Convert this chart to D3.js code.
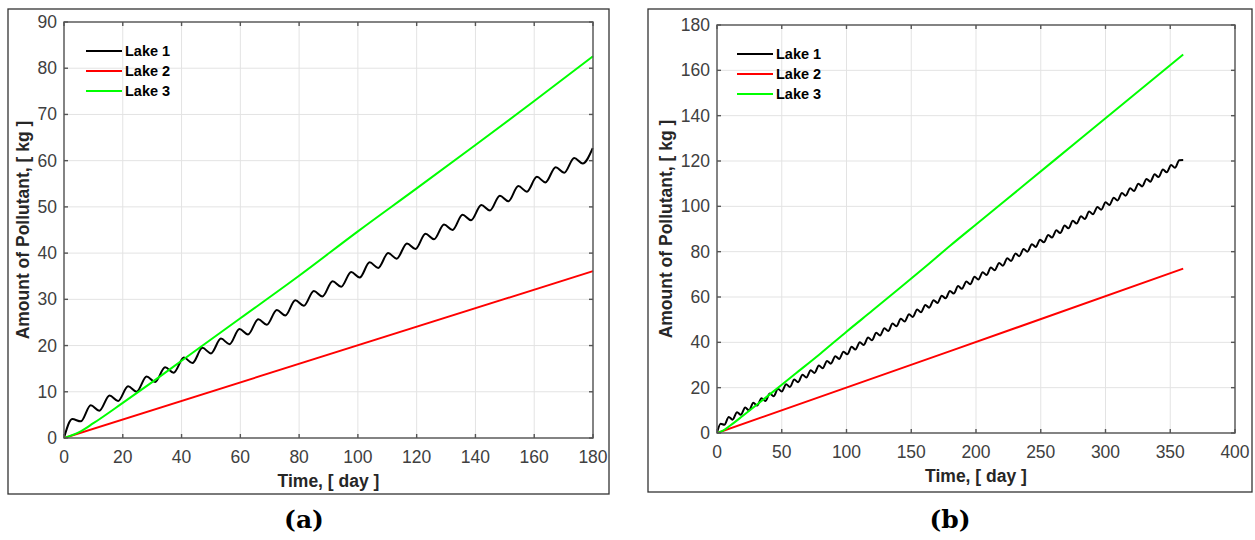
<!DOCTYPE html>
<html>
<head>
<meta charset="utf-8">
<script src="https://cdn.jsdelivr.net/npm/d3@7"></script>
<style>
  body { margin: 0; background: #ffffff; }
  svg { display: block; }
</style>
</head>
<body>
<svg id="chart" width="1255" height="540"></svg>
<script>
// ── DATA ──
const seriesNames = ["Lake 1", "Lake 2", "Lake 3"];
const seriesColors = ["#000000", "#ff0000", "#00ff00"];

// Lake 1 wiggles: alternating local peaks / troughs
const lake1Days = [
  0, 2.8, 5.7, 9.1, 12.0, 15.5, 18.4, 21.8, 24.7, 28.1, 31.0, 34.4, 37.3, 40.8, 43.7,
  47.1, 50.0, 53.4, 56.3, 59.7, 62.6, 66.1, 69.0, 72.4, 75.3, 78.7, 81.6, 85.0, 87.9,
  91.4, 94.3, 97.7, 100.6, 104.0, 106.9, 110.3, 113.2, 116.7, 119.6, 123.0, 125.9,
  129.3, 132.2, 135.6, 138.5, 142.0, 144.9, 148.3, 151.2, 154.6, 157.5, 160.9, 163.8,
  167.3, 170.2, 173.6, 176.5, 179.9, 182.8, 186.2, 189.1, 192.6, 195.5, 198.9, 201.8,
  205.2, 208.1, 211.5, 214.4, 217.9, 220.8, 224.2, 227.1, 230.5, 233.4, 236.8, 239.7,
  243.2, 246.1, 249.5, 252.4, 255.8, 258.7, 262.1, 265.0, 268.5, 271.4, 274.8, 277.7,
  281.1, 284.0, 287.4, 290.3, 293.8, 296.7, 300.1, 303.0, 306.4, 309.3, 312.7, 315.6,
  319.1, 322.0, 325.4, 328.3, 331.7, 334.6, 338.0, 340.9, 344.4, 347.3, 350.7, 353.6,
  357.0, 360.0
];
const lake1Kg = [
  0, 4.1, 3.6, 7.1, 5.9, 9.2, 8.0, 11.2, 10.0, 13.3, 12.1, 15.3, 14.1, 17.4, 16.2,
  19.5, 18.3, 21.5, 20.3, 23.6, 22.4, 25.7, 24.5, 27.7, 26.5, 29.8, 28.6, 31.8, 30.6,
  33.9, 32.7, 35.9, 34.7, 38.0, 36.8, 40.0, 38.8, 42.1, 40.9, 44.2, 43.0,
  46.2, 45.0, 48.3, 47.1, 50.4, 49.2, 52.4, 51.2, 54.5, 53.3, 56.5, 55.3,
  58.6, 57.4, 60.6, 59.4, 62.7, 61.5, 64.8, 63.6, 66.8, 65.6, 68.9, 67.7,
  70.9, 69.7, 73.0, 71.8, 75.0, 73.8, 77.1, 75.9, 79.2, 78.0, 81.2, 80.0,
  83.3, 82.1, 85.3, 84.1, 87.4, 86.2, 89.4, 88.2, 91.5, 90.3, 93.6, 92.4,
  95.6, 94.4, 97.7, 96.5, 99.7, 98.5, 101.8, 100.6, 103.8, 102.6, 105.9, 104.7,
  108.0, 106.8, 110.0, 108.8, 112.1, 110.9, 114.1, 112.9, 116.2, 115.0, 118.2, 117.0,
  120.3, 120.4
];

const lake2Days = [0, 180, 360];
const lake2Kg = [0, 36.1, 72.5];

const lake3Days = [0, 5, 10, 20, 30, 40, 60, 80, 100, 120, 140, 160, 180, 200, 240, 280, 320, 360];
const lake3Kg = [0, 1.2, 3.2, 7.6, 12.1, 16.7, 25.9, 35.1, 44.7, 54.0, 63.4, 72.9, 82.6, 92.0, 110.7, 129.5, 148.2, 167.0];

const leftXTicks = [0, 20, 40, 60, 80, 100, 120, 140, 160, 180];
const leftYTicks = [0, 10, 20, 30, 40, 50, 60, 70, 80, 90];
const rightXTicks = [0, 50, 100, 150, 200, 250, 300, 350, 400];
const rightYTicks = [0, 20, 40, 60, 80, 100, 120, 140, 160, 180];

const xLabel = "Time, [ day ]";
const yLabel = "Amount of Pollutant, [ kg ]";

function zipSeries(days, kg) {
  return days.map((d, i) => ({ day: d, kg: kg[i] }));
}
const allSeries = [
  zipSeries(lake1Days, lake1Kg),
  zipSeries(lake2Days, lake2Kg),
  zipSeries(lake3Days, lake3Kg),
];

const svg = d3.select("#chart");
const sansFont = "'Liberation Sans', Arial, sans-serif";

// ── PANEL DRAWING ──
function drawPanel(cfg) {
  const g = svg.append("g");

  // outer frame
  g.append("rect")
    .attr("x", cfg.frame.x).attr("y", cfg.frame.y)
    .attr("width", cfg.frame.w).attr("height", cfg.frame.h)
    .attr("fill", "none").attr("stroke", "#333").attr("stroke-width", 1.3);

  const p = cfg.plot;
  const x = d3.scaleLinear().domain([0, cfg.xMax]).range([p.x, p.x + p.w]);
  const y = d3.scaleLinear().domain([0, cfg.yMax]).range([p.y + p.h, p.y]);

  // grid
  const grid = g.append("g").attr("stroke", "#e3e3e3").attr("stroke-width", 1);
  grid.selectAll("line.vx").data(cfg.xTicks).enter().append("line")
    .attr("x1", (d) => x(d)).attr("x2", (d) => x(d))
    .attr("y1", p.y).attr("y2", p.y + p.h);
  grid.selectAll("line.hy").data(cfg.yTicks).enter().append("line")
    .attr("y1", (d) => y(d)).attr("y2", (d) => y(d))
    .attr("x1", p.x).attr("x2", p.x + p.w);

  // series
  const clipId = "clip-" + cfg.id;
  svg.append("defs").append("clipPath").attr("id", clipId)
    .append("rect").attr("x", p.x).attr("y", p.y - 2).attr("width", p.w + 1).attr("height", p.h + 3);

  const line = d3.line()
    .x((d) => x(d.day))
    .y((d) => y(d.kg))
    .curve(d3.curveMonotoneX);

  const lines = g.append("g").attr("clip-path", `url(#${clipId})`);
  allSeries.forEach((s, i) => {
    const pts = s.filter((d) => d.day <= cfg.dayMax);
    lines.append("path")
      .datum(pts)
      .attr("d", line)
      .attr("fill", "none")
      .attr("stroke", seriesColors[i])
      .attr("stroke-width", 2)
      .attr("stroke-linejoin", "round");
  });

  // axes with inward ticks, all four sides
  const tickLen = 4;
  const ax = g.append("g").attr("stroke", "#555").attr("stroke-width", 1.4);
  ax.append("rect")
    .attr("x", p.x).attr("y", p.y).attr("width", p.w).attr("height", p.h)
    .attr("fill", "none");
  cfg.xTicks.forEach((t) => {
    ax.append("line").attr("x1", x(t)).attr("x2", x(t)).attr("y1", p.y + p.h).attr("y2", p.y + p.h - tickLen);
    ax.append("line").attr("x1", x(t)).attr("x2", x(t)).attr("y1", p.y).attr("y2", p.y + tickLen);
  });
  cfg.yTicks.forEach((t) => {
    ax.append("line").attr("y1", y(t)).attr("y2", y(t)).attr("x1", p.x).attr("x2", p.x + tickLen);
    ax.append("line").attr("y1", y(t)).attr("y2", y(t)).attr("x1", p.x + p.w).attr("x2", p.x + p.w - tickLen);
  });

  // tick labels
  g.append("g").selectAll("text").data(cfg.xTicks).enter().append("text")
    .attr("x", (d) => x(d)).attr("y", p.y + p.h + 19)
    .attr("text-anchor", "middle").attr("dominant-baseline", "central")
    .attr("fill", "#404040")
    .style("font-family", sansFont).style("font-size", "17.5px")
    .text((d) => d);
  g.append("g").selectAll("text").data(cfg.yTicks).enter().append("text")
    .attr("x", p.x - 7).attr("y", (d) => y(d))
    .attr("text-anchor", "end").attr("dominant-baseline", "central")
    .attr("fill", "#404040")
    .style("font-family", sansFont).style("font-size", "17.5px")
    .text((d) => d);

  // axis titles
  g.append("text")
    .attr("x", p.x + p.w / 2).attr("y", p.y + p.h + 43)
    .attr("text-anchor", "middle").attr("dominant-baseline", "central")
    .attr("fill", "#262626")
    .style("font-family", sansFont).style("font-size", "17.5px").style("font-weight", "bold")
    .text(xLabel);
  g.append("text")
    .attr("transform", `translate(${cfg.yLabelX},${p.y + p.h / 2}) rotate(-90)`)
    .attr("text-anchor", "middle").attr("dominant-baseline", "central")
    .attr("fill", "#262626")
    .style("font-family", sansFont).style("font-size", "17.5px").style("font-weight", "bold")
    .text(yLabel);

  // legend
  const lg = g.append("g");
  seriesNames.forEach((name, i) => {
    const ly = cfg.legend.y + i * 20;
    lg.append("line")
      .attr("x1", cfg.legend.x).attr("x2", cfg.legend.x + 36)
      .attr("y1", ly).attr("y2", ly)
      .attr("stroke", seriesColors[i]).attr("stroke-width", 2);
    lg.append("text")
      .attr("x", cfg.legend.x + 39).attr("y", ly)
      .attr("dominant-baseline", "central")
      .attr("fill", "#000")
      .style("font-family", sansFont).style("font-size", "14.5px").style("font-weight", "bold")
      .text(name);
  });

  // caption
  g.append("text")
    .attr("x", cfg.caption.x).attr("y", cfg.caption.y)
    .attr("text-anchor", "middle").attr("dominant-baseline", "central")
    .attr("fill", "#000")
    .style("font-family", "'DejaVu Serif', serif").style("font-size", "25px").style("font-weight", "bold")
    .text(cfg.caption.text);
}

drawPanel({
  id: "a",
  frame: { x: 8, y: 9, w: 601, h: 485 },
  plot: { x: 64, y: 22, w: 529, h: 416 },
  xMax: 180, yMax: 90, dayMax: 180,
  xTicks: leftXTicks, yTicks: leftYTicks,
  yLabelX: 23,
  legend: { x: 86, y: 51 },
  caption: { x: 304, y: 519, text: "(a)" },
});

drawPanel({
  id: "b",
  frame: { x: 648, y: 9, w: 604, h: 483 },
  plot: { x: 717, y: 25, w: 518, h: 408 },
  xMax: 400, yMax: 180, dayMax: 360,
  xTicks: rightXTicks, yTicks: rightYTicks,
  yLabelX: 666,
  legend: { x: 737, y: 54 },
  caption: { x: 950, y: 519, text: "(b)" },
});
</script>
</body>
</html>
